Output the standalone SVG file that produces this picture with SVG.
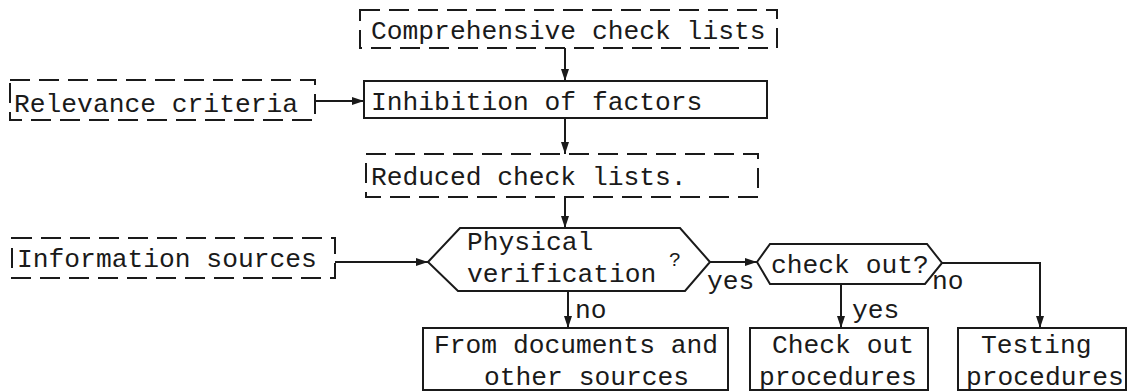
<svg xmlns="http://www.w3.org/2000/svg" width="1128" height="391" viewBox="0 0 1128 391">
<style>
.box{fill:none;stroke:#1a1a1a;stroke-width:2}
.dash{stroke-dasharray:20 9}
.t{font-family:"Liberation Mono","DejaVu Sans Mono",monospace;font-size:26.3px;fill:#1a1a1a}
.s{font-family:"Liberation Mono","DejaVu Sans Mono",monospace;font-size:20px;fill:#1a1a1a}
.c{fill:none;stroke:#1a1a1a;stroke-width:2}
</style>
<defs>
<marker id="ah" viewBox="0 0 12 8" refX="12" refY="4" markerWidth="12" markerHeight="8" markerUnits="userSpaceOnUse" orient="auto">
<path d="M0,0 L12,4 L0,8 Z" fill="#1a1a1a"/>
</marker>
</defs>
<rect width="1128" height="391" fill="#fff"/>
<g id="connectors">
<line class="c" x1="565" y1="48" x2="565" y2="81" marker-end="url(#ah)"/>
<line class="c" x1="315" y1="101" x2="364" y2="101" marker-end="url(#ah)"/>
<line class="c" x1="565" y1="118" x2="565" y2="154" marker-end="url(#ah)"/>
<line class="c" x1="565" y1="197" x2="565" y2="228" marker-end="url(#ah)"/>
<line class="c" x1="335" y1="262" x2="428" y2="262" marker-end="url(#ah)"/>
<line class="c" x1="710" y1="262" x2="757" y2="262" marker-end="url(#ah)"/>
<line class="c" x1="568" y1="291" x2="568" y2="328" marker-end="url(#ah)"/>
<line class="c" x1="841" y1="284" x2="841" y2="328" marker-end="url(#ah)"/>
<polyline class="c" points="942,263 1040,263 1040,328" marker-end="url(#ah)"/>
<text class="t" x="707" y="289">yes</text>
<text class="t" x="932" y="289">no</text>
<text class="t" x="575" y="318">no</text>
<text class="t" x="852" y="318">yes</text>
</g>
<g id="comprehensive">
<rect class="box dash" x="360" y="10" width="417" height="38"/>
<text class="t" x="371" y="39">Comprehensive check lists</text>
</g>
<g id="relevance">
<rect class="box dash" x="10" y="80" width="305" height="40"/>
<text class="t" x="14" y="112">Relevance criteria</text>
</g>
<g id="inhibition">
<rect class="box" x="364" y="81" width="403" height="37"/>
<text class="t" x="371" y="110">Inhibition of factors</text>
</g>
<g id="reduced">
<rect class="box dash" x="366" y="154" width="392" height="43"/>
<text class="t" x="371" y="185">Reduced check lists.</text>
</g>
<g id="information">
<rect class="box dash" x="12" y="238" width="323" height="40"/>
<text class="t" x="17" y="267">Information sources</text>
</g>
<g id="physical">
<polygon class="box" points="428,262 460,228 680,228 710,262 685,291 458,291"/>
<text class="t" x="467" y="250">Physical</text>
<text class="t" x="467" y="282">verification</text>
<text class="s" x="669" y="266">?</text>
</g>
<g id="checkout">
<polygon class="box" points="757,262 770,244 927,244 942,263 925,284 770,284"/>
<text class="t" x="771" y="273">check out?</text>
</g>
<g id="documents">
<rect class="box" x="423" y="328" width="305" height="62"/>
<text class="t" x="434" y="353">From documents and</text>
<text class="t" x="484" y="385">other sources</text>
</g>
<g id="checkoutproc">
<rect class="box" x="750" y="328" width="178" height="62"/>
<text class="t" x="772" y="353">Check out</text>
<text class="t" x="759" y="385">procedures</text>
</g>
<g id="testing">
<rect class="box" x="958" y="328" width="168" height="62"/>
<text class="t" x="981" y="353">Testing</text>
<text class="t" x="966" y="385">procedures</text>
</g>
</svg>
